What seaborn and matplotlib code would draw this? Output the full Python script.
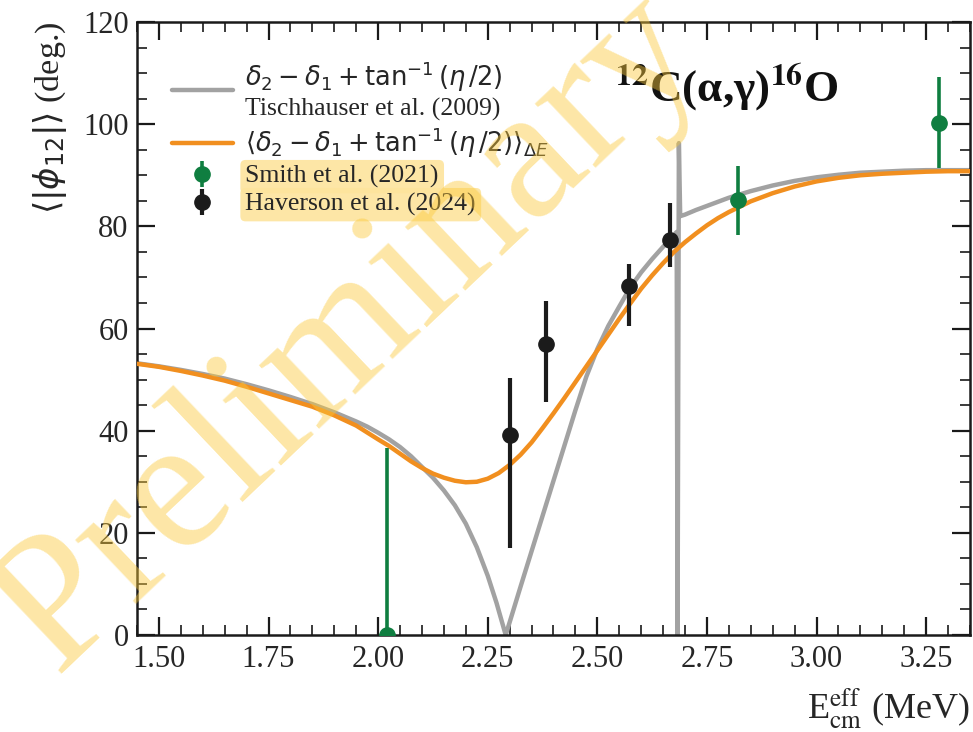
import matplotlib
matplotlib.use("Agg")
import matplotlib.pyplot as plt
from matplotlib.lines import Line2D
from matplotlib.ticker import MultipleLocator, FixedLocator, FixedFormatter
import pandas as pd
import seaborn as sns

# R-matrix phase difference |delta2 - delta1 + atan(eta/2)| (Tischhauser et al. 2009)
e_tisch = [1.45, 1.50, 1.55, 1.60, 1.65, 1.70, 1.75, 1.80, 1.85, 1.90, 1.95, 1.975,
           2.00, 2.025, 2.05, 2.075, 2.10, 2.125, 2.15, 2.175, 2.20, 2.225, 2.25,
           2.27, 2.291, 2.30, 2.325, 2.35, 2.375, 2.40, 2.425, 2.45, 2.475, 2.50,
           2.525, 2.55, 2.575, 2.60, 2.625, 2.65, 2.665, 2.681, 2.683, 2.686, 2.689,
           2.70, 2.725, 2.75, 2.80, 2.85, 2.90, 2.95, 3.00, 3.05, 3.10, 3.15, 3.20,
           3.25, 3.30, 3.35]
phi_tisch = [53.2, 52.6, 51.9, 51.1, 50.2, 49.1, 47.9, 46.6, 45.2, 43.6, 41.8, 40.8,
             39.6, 38.3, 36.8, 35.0, 32.9, 30.8, 28.3, 25.4, 21.8, 17.2, 11.6,
             6.3, 0.0, 2.5, 9.5, 16.4, 23.3, 30.2, 37.1, 44.0, 50.6, 56.0,
             60.5, 64.3, 68.0, 71.0, 73.6, 76.0, 77.4, 78.9, 0.0, 96.3, 82.0,
             82.3, 83.2, 84.0, 85.6, 86.9, 88.0, 88.9, 89.6, 90.1, 90.5, 90.7, 90.9,
             91.0, 91.0, 91.0]

# Same quantity averaged over the target energy loss
e_avg = [1.45, 1.50, 1.55, 1.60, 1.65, 1.70, 1.75, 1.80, 1.85, 1.90, 1.95, 2.00,
         2.025, 2.05, 2.075, 2.10, 2.125, 2.15, 2.175, 2.20, 2.225, 2.25, 2.275,
         2.30, 2.325, 2.35, 2.375, 2.40, 2.425, 2.45, 2.475, 2.50, 2.525, 2.55,
         2.575, 2.60, 2.625, 2.65, 2.675, 2.70, 2.725, 2.75, 2.775, 2.80, 2.85,
         2.90, 2.95, 3.00, 3.05, 3.10, 3.15, 3.20, 3.25, 3.30, 3.35]
phi_avg = [53.1, 52.5, 51.7, 50.8, 49.8, 48.6, 47.3, 46.0, 44.7, 43.0, 41.0, 38.3,
           37.0, 35.5, 34.0, 32.7, 31.6, 30.8, 30.2, 29.9, 30.0, 30.6, 31.7,
           33.3, 35.3, 37.7, 40.5, 43.4, 46.4, 49.5, 52.6, 55.7, 58.8, 61.9,
           64.9, 67.8, 70.4, 72.8, 75.0, 76.9, 78.6, 80.2, 81.6, 82.8, 84.9,
           86.5, 87.8, 88.8, 89.5, 90.0, 90.3, 90.5, 90.7, 90.8, 90.8]

# Smith et al. (2021)
e_smith = [2.02, 2.82, 3.28]
phi_smith = [0.0, 85.2, 100.3]
smith_lo = [36.7, 6.8, 8.8]
smith_hi = [36.7, 6.6, 9.0]

# Haverson et al. (2024)
e_hav = [2.300, 2.383, 2.573, 2.665]
phi_hav = [39.2, 57.0, 68.4, 77.3]
hav_lo = [22.1, 11.4, 7.9, 5.2]
hav_hi = [11.1, 8.4, 4.2, 7.2]

x_ticks = [1.50, 1.75, 2.00, 2.25, 2.50, 2.75, 3.00, 3.25]
x_tick_labels = ["1.50", "1.75", "2.00", "2.25", "2.50", "2.75", "3.00", "3.25"]
y_ticks = [0, 20, 40, 60, 80, 100, 120]
y_tick_labels = ["0", "20", "40", "60", "80", "100", "120"]

label_tisch = r"$\delta_2-\delta_1+\tan^{-1}(\eta\,/2)$" + "\nTischhauser et al. (2009)"
label_avg = r"$\langle\delta_2-\delta_1+\tan^{-1}(\eta\,/2)\rangle_{\Delta E}$"
label_smith = "Smith et al. (2021)"
label_hav = "Haverson et al. (2024)"

GRAY = "#A2A2A2"
ORANGE = "#F18F1F"
GREEN = "#0F7E40"
BLACK = "#1B1B1B"

sns.set_theme(style="ticks")
plt.rcParams["font.family"] = ["Liberation Serif", "DejaVu Serif"]
plt.rcParams["mathtext.fontset"] = "dejavusans"
plt.rcParams["axes.linewidth"] = 1.8
plt.rcParams["axes.edgecolor"] = "#1a1a1a"

fig = plt.figure(figsize=(9.73, 7.32), dpi=100)
ax = fig.add_axes([0.1408, 0.1325, 0.8561, 0.8374])

tisch = pd.DataFrame({"E": e_tisch, "phi": phi_tisch})
avg = pd.DataFrame({"E": e_avg, "phi": phi_avg})

sns.lineplot(data=tisch, x="E", y="phi", ax=ax, color=GRAY, lw=3.2,
             sort=False, estimator=None, legend=False, zorder=2)
sns.lineplot(data=avg, x="E", y="phi", ax=ax, color=ORANGE, lw=3.2,
             sort=False, estimator=None, legend=False, zorder=3)
for ln in ax.get_lines():
    ln.set_solid_joinstyle("round")

eb_s = ax.errorbar(e_smith, phi_smith, yerr=[smith_lo, smith_hi], fmt="o",
                   color=GREEN, ms=11, elinewidth=2.6, capsize=0, zorder=5)
eb_h = ax.errorbar(e_hav, phi_hav, yerr=[hav_lo, hav_hi], fmt="o",
                   color=BLACK, ms=11, elinewidth=3.0, capsize=0, zorder=6)

ax.set_xlim(1.45, 3.35)
ax.set_ylim(0, 120)
ax.xaxis.set_major_locator(FixedLocator(x_ticks))
ax.xaxis.set_major_formatter(FixedFormatter(x_tick_labels))
ax.yaxis.set_major_locator(FixedLocator(y_ticks))
ax.yaxis.set_major_formatter(FixedFormatter(y_tick_labels))
ax.xaxis.set_minor_locator(MultipleLocator(0.05))
ax.yaxis.set_minor_locator(MultipleLocator(5))
ax.tick_params(which="both", direction="in", top=True, right=True, color="#1a1a1a")
ax.tick_params(which="major", length=13, width=1.6, labelsize=22)
ax.tick_params(which="minor", length=7, width=1.2)
ax.tick_params(axis="x", which="major", pad=7)
ax.tick_params(axis="y", which="major", pad=6)

ax.set_xlabel(r"E$_{\mathrm{cm}}^{\mathrm{eff}}$ (MeV)", fontsize=26, loc="right",
              math_fontfamily="stix", labelpad=9)
ax.set_ylabel(r"$\langle|\phi_{12}|\rangle$ (deg.)", fontsize=24.5, loc="top", labelpad=10)

ax.text(0.574, 0.893, r"$^{\mathbf{12}}$C(α,γ)$^{\mathbf{16}}$O", transform=ax.transAxes,
        fontsize=32.5, fontweight="bold", math_fontfamily="stix", va="center", ha="left",
        color="#111111", zorder=7)

handles = [
    Line2D([], [], color=GRAY, lw=3.2),
    Line2D([], [], color=ORANGE, lw=3.2),
    eb_s,
    eb_h,
]
labels = [label_tisch, label_avg, label_smith, label_hav]
leg = ax.legend(handles, labels, loc="upper left", bbox_to_anchor=(0.03, 0.955),
                frameon=False, fontsize=18.5, handlelength=2.35, handletextpad=0.5,
                labelspacing=0.18, borderaxespad=0)
for t in leg.get_texts()[2:]:
    t.set_bbox(dict(boxstyle="round,pad=0.2", fc="#FDE49C", ec="none", alpha=0.9))

fig.text(0.36, 0.545, "Preliminary", fontsize=137, rotation=43.5, ha="center",
         va="center", color="#FBC93A", alpha=0.45, zorder=10,
         family="Liberation Serif")

fig.savefig("out.png", dpi=100)
